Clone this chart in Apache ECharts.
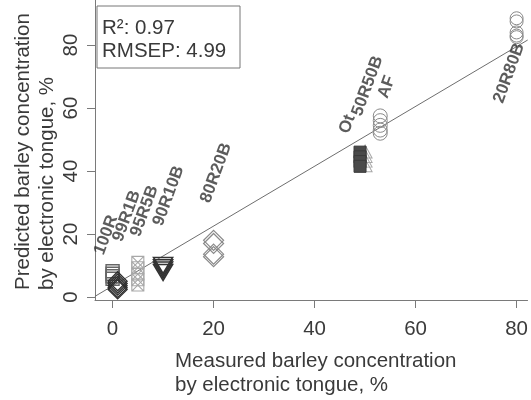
<!DOCTYPE html>
<html>
<head>
<meta charset="utf-8">
<script src="https://cdn.jsdelivr.net/npm/echarts@6/dist/echarts.min.js"></script>
<style>
  html, body { margin: 0; padding: 0; background: #fff; }
  #chart { width: 531px; height: 400px; }
</style>
</head>
<body>
<div id="chart"></div>
<script>
// Measured vs. predicted barley concentration (%), electronic tongue PLS model
const xTicks = [0, 20, 40, 60, 80];
const yTicks = [0, 20, 40, 60, 80];

// Sample groups: measured value and predicted replicates
const r100X = 0,   r100Y = [8.2, 7.4, 6.6, 5.8];
const r99X = 1,    r99Y = [5, 4.3, 3.6, 2.9, 2.4];
const r95X = 5,    r95Y = [11, 9.3, 7.3, 5.5, 3.8];
const r90X = 10,   r90Y = [10, 9.3, 8.6, 7.8];
const r80X = 20,   r80Y = [18, 17, 13.6, 12.8];
const otX = 49,    otY = [46, 44.5, 43, 41.5];
const r50X = 50,   r50Y = [46.2, 44.8, 43.3, 41.8];
const afX = 53,    afY = [57.5, 56, 54.5, 53, 52];
const r20X = 80,   r20Y = [88.5, 87.5, 84, 83, 82.5];

// Fitted regression line end points
const fitX = [-3.5, 82.2];
const fitY = [0.2, 81.6];

// Group names and where they are written
const labelText = ['100R', '99R1B', '95R5B', '90R10B', '80R20B', 'Ot', '50R50B', 'AF', '20R80B'];
const labelX = [-1.3, 2.8, 6.3, 11.1, 20.5, 46.5, 50.5, 54.3, 78.5];
const labelY = [19.7, 25.7, 27.3, 32.1, 39.4, 54.9, 67.0, 66.7, 71.1];

const FONT = "'Liberation Sans', Arial, sans-serif";
const TXT = '#3a3a3a';
const AXC = '#7a7a7a';

const pts = (x, ys) => ys.map(y => [x, y]);

const crossBox = 'path://M0,0L10,0L10,10L0,10Z M0,0L10,10 M10,0L0,10';
const downTri = 'path://M0,0L10,0L5,9Z';

function group(name, x, ys, symbol, size, stroke, fill, width) {
  return {
    name, type: 'scatter', data: pts(x, ys),
    symbol, symbolSize: size,
    itemStyle: { color: fill, borderColor: stroke, borderWidth: width, opacity: 1 },
    emphasis: { disabled: true }, z: 3
  };
}

const chart = echarts.init(document.getElementById('chart'), null, { renderer: 'canvas' });
chart.setOption({
  animation: false,
  backgroundColor: '#fff',
  grid: { left: 95, right: 0, top: 0, bottom: 100, containLabel: false },
  xAxis: {
    type: 'value', min: -3.48, max: 82.17,
    splitLine: { show: false },
    axisLine: { show: true, onZero: false, lineStyle: { color: AXC, width: 1 } },
    axisTick: { show: true, customValues: xTicks, length: 8, lineStyle: { color: AXC } },
    axisLabel: { customValues: xTicks, margin: 19, fontSize: 20.5, fontFamily: FONT, color: TXT }
  },
  yAxis: {
    type: 'value', min: -0.95, max: 94.3,
    splitLine: { show: false },
    axisLine: { show: true, onZero: false, lineStyle: { color: AXC, width: 1 } },
    axisTick: { show: true, customValues: yTicks, length: 8, lineStyle: { color: AXC } },
    axisLabel: { customValues: yTicks, rotate: 90, margin: 13, fontSize: 20.5, fontFamily: FONT, color: TXT }
  },
  series: [
    {
      type: 'line', data: fitX.map((x, i) => [x, fitY[i]]),
      showSymbol: false, symbol: 'none', z: 2, silent: true,
      lineStyle: { color: '#6e6e6e', width: 1 }
    },
    group('100R', r100X, r100Y, 'rect', 13, '#666', 'rgba(0,0,0,0)', 1.4),
    group('95R5B', r95X, r95Y, crossBox, 12, '#a8a8a8', 'rgba(0,0,0,0)', 1.1),
    group('99R1B', r99X, r99Y, 'diamond', [19, 19], '#2e2e2e', 'rgba(0,0,0,0)', 1.3),
    group('90R10B', r90X, r90Y, downTri, [19, 16], '#333', 'rgba(0,0,0,0)', 1.6),
    group('80R20B', r80X, r80Y, 'diamond', [20, 20], '#8a8a8a', 'rgba(0,0,0,0)', 1.2),
    group('50R50B', r50X, r50Y, 'triangle', [14, 13], '#a8a8a8', 'rgba(0,0,0,0)', 1),
    group('Ot', otX, otY, 'rect', 12, '#3a3a3a', '#4a4a4a', 1),
    group('AF', afX, afY, 'circle', 14, '#8a8a8a', 'rgba(0,0,0,0)', 1),
    group('20R80B', r20X, r20Y, 'circle', 13, '#8a8a8a', 'rgba(0,0,0,0)', 1),
    {
      type: 'scatter', z: 5, silent: true,
      data: labelText.map((t, i) => ({ value: [labelX[i], labelY[i]], name: t })),
      symbolSize: 1,
      itemStyle: { color: 'rgba(0,0,0,0)' },
      label: {
        show: true, position: 'inside', rotate: 70,
        formatter: p => p.name,
        fontSize: 17, fontWeight: 'bold',
        fontFamily: FONT, color: '#333'
      }
    }
  ],
  graphic: [
    {
      type: 'rect', z: 10,
      shape: { x: 97, y: 6, width: 143, height: 62 },
      style: { fill: '#fff', stroke: '#777', lineWidth: 1 }
    },
    {
      type: 'text', z: 11, x: 102, y: 17,
      style: { text: 'R²: 0.97\nRMSEP: 4.99', font: '20.5px ' + FONT, fill: TXT, lineHeight: 23, textVerticalAlign: 'top' }
    },
    {
      type: 'text', z: 11, x: 175, y: 349,
      style: { text: 'Measured barley concentration\nby electronic tongue, %', font: '20.5px ' + FONT, fill: TXT, lineHeight: 24, textAlign: 'left', textVerticalAlign: 'top' }
    },
    {
      type: 'text', z: 11, x: 11, y: 290, rotation: Math.PI / 2,
      style: { text: 'Predicted barley concentration\nby electronic tongue, %', font: '20.5px ' + FONT, fill: TXT, lineHeight: 24, textAlign: 'left', textVerticalAlign: 'top' }
    }
  ]
});
</script>
</body>
</html>
